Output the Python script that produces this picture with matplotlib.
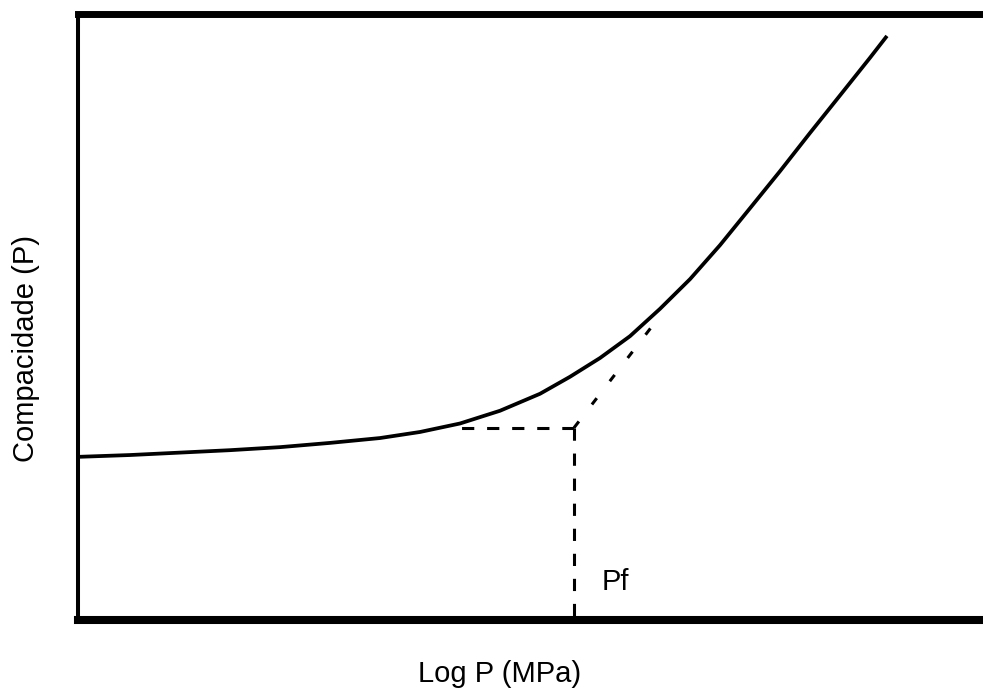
import matplotlib
matplotlib.use("Agg")
import matplotlib.pyplot as plt

plt.rcParams['font.family'] = ['Liberation Sans', 'DejaVu Sans']

# Compaction curve: log pressure (arbitrary units) vs. compactness
log_p = [0, 5.64, 11.06, 16.49, 21.91, 27.33, 32.75, 37.09, 41.43, 45.77,
         50.11, 53.36, 56.62, 59.87, 63.12, 66.38, 69.63, 72.89, 76.14,
         79.39, 82.65, 85.9, 87.74]
compacidade = [26.9, 27.2, 27.6, 28.0, 28.5, 29.2, 30.0, 31.0, 32.4, 34.5,
               37.3, 40.1, 43.2, 46.8, 51.3, 56.2, 61.8, 67.9, 74.0,
               80.3, 86.5, 92.7, 96.3]

# Construction lines locating the yield pressure Pf
pf_x, pf_y = 53.8, 31.7
plateau_start_x = 40.7
tangent_end = (62.6, 49.1)

fig = plt.figure(figsize=(9.83, 6.89), dpi=100)
ax = fig.add_axes([78 / 983, 69 / 689, 922 / 983, 606.5 / 689])
ax.set_xlim(0, 100)
ax.set_ylim(0, 100)

ax.plot(log_p, compacidade, color='black', lw=2.7, solid_capstyle='butt',
        solid_joinstyle='round', zorder=3)

dash = (0, (4.0, 4.2))
ax.plot([pf_x, plateau_start_x], [pf_y, pf_y], color='black', lw=2.2, linestyle=dash)
ax.plot([pf_x, pf_x], [pf_y, 0], color='black', lw=2.2, linestyle=dash)
ax.plot([pf_x, tangent_end[0]], [pf_y, tangent_end[1]], color='black', lw=2.2,
        linestyle=(0, (2.6, 7.0)))

ax.text(56.8, 4.9, 'Pf', fontsize=21, va='baseline', ha='left')

ax.set_xticks([])
ax.set_yticks([])
ax.spines['right'].set_visible(False)
ax.spines['top'].set_linewidth(5.0)
ax.spines['bottom'].set_linewidth(5.8)
ax.spines['left'].set_linewidth(2.9)

fig.text(500 / 983, 1 - 682 / 689, 'Log P (MPa)', fontsize=21,
         ha='center', va='baseline')
fig.text(12 / 983, 1 - 349 / 689, 'Compacidade (P)', fontsize=21,
         rotation=90, ha='left', va='center')

fig.savefig('out.png', dpi=100)
